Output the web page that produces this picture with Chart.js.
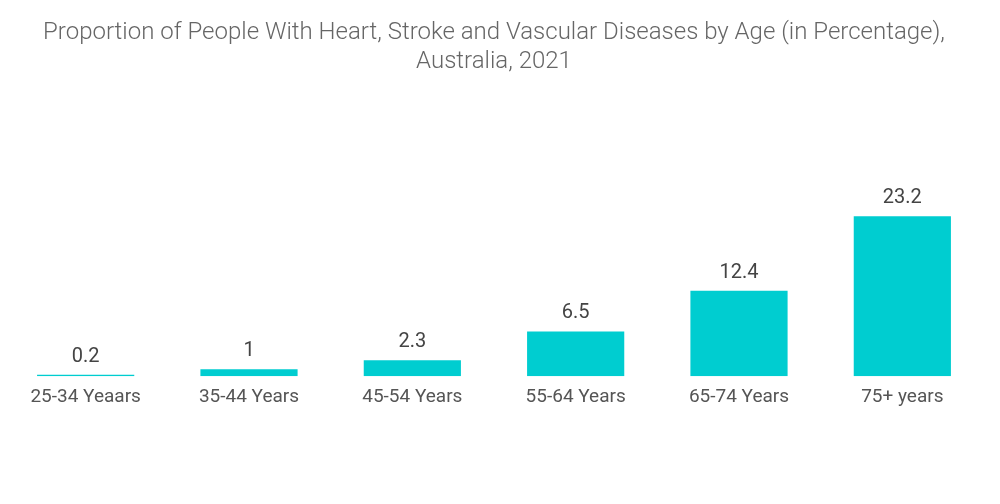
<!DOCTYPE html>
<html>
<head>
<meta charset="utf-8">
<script src="https://cdn.jsdelivr.net/npm/chart.js@4"></script>
<style>
html,body{margin:0;padding:0;background:#fff;}
#wrap{width:1000px;height:504px;position:relative;}
</style>
</head>
<body>
<div id="wrap"><canvas id="c"></canvas></div>
<script>
const categories = ["25-34 Yeaars","35-44 Years","45-54 Years","55-64 Years","65-74 Years","75+ years"];
const values = [0.2, 1, 2.3, 6.5, 12.4, 23.2];
const titleLines = ["Proportion of People With Heart, Stroke and Vascular Diseases by Age (in Percentage),","Australia, 2021"];

const valueLabels = {
  id: 'valueLabels',
  afterDatasetsDraw(chart) {
    const ctx = chart.ctx;
    const meta = chart.getDatasetMeta(0);
    ctx.save();
    ctx.font = '20px Roboto, "Noto Sans", sans-serif';
    ctx.fillStyle = '#444';
    ctx.textAlign = 'center';
    ctx.textBaseline = 'bottom';
    meta.data.forEach((bar, i) => {
      ctx.fillText(String(chart.data.datasets[0].data[i]), bar.x, bar.y - 8);
    });
    ctx.restore();
  }
};

new Chart(document.getElementById('c'), {
  type: 'bar',
  data: {
    labels: categories,
    datasets: [{
      data: values,
      backgroundColor: '#00CDD0',
      borderWidth: 0,
      categoryPercentage: 1,
      barPercentage: 0.595
    }]
  },
  options: {
    responsive: true,
    maintainAspectRatio: false,
    animation: false,
    layout: { padding: { top: 19, bottom: 85, left: 4, right: 16 } },
    plugins: {
      legend: { display: false },
      tooltip: { enabled: false },
      title: {
        display: true,
        text: titleLines,
        color: '#666',
        font: { family: 'Roboto, "Noto Sans", sans-serif', size: 24, weight: 300, lineHeight: 1.2 },
        padding: { top: 0, bottom: 24 }
      }
    },
    scales: {
      x: {
        grid: { display: false, drawTicks: false },
        border: { display: false },
        ticks: { color: '#555', padding: 10, font: { family: 'Roboto, "Noto Sans", sans-serif', size: 19 } }
      },
      y: {
        display: false,
        min: 0,
        max: 40
      }
    }
  },
  plugins: [valueLabels]
});
</script>
</body>
</html>
